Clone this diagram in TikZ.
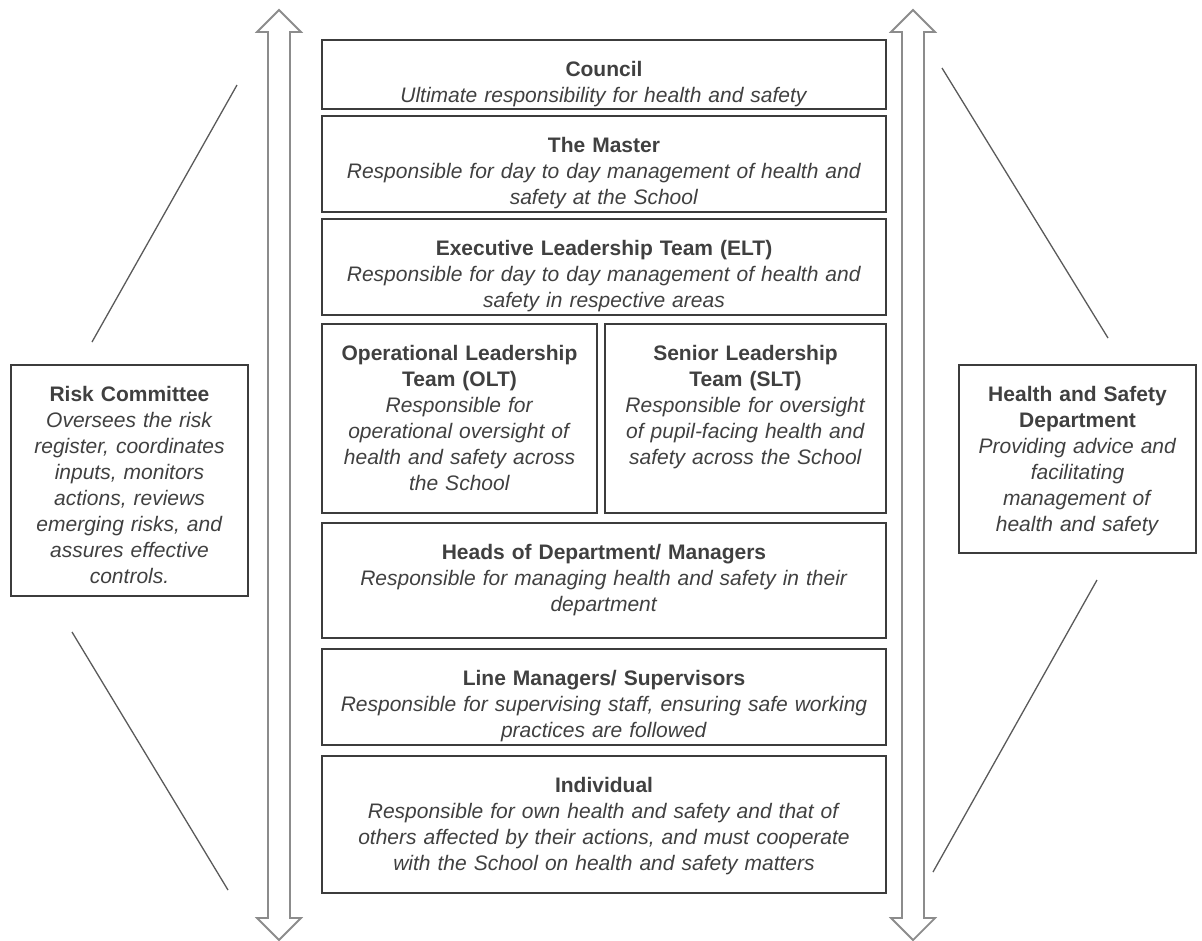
\documentclass[tikz,border=0pt]{standalone}
\usepackage{fontspec}
\setmainfont{Liberation Sans}
\usepackage{tikz}
\definecolor{ink}{HTML}{404040}
\definecolor{frame}{HTML}{3C3C3C}
\definecolor{shaft}{HTML}{8C8C8C}
\definecolor{slant}{HTML}{5A5A5A}

\begin{document}
\begin{tikzpicture}[x=1pt,y=-1pt]
\tikzstyle{unit}=[rectangle,draw=frame,line width=1.6pt,text=ink,align=center,inner sep=0pt,anchor=north,text height=37pt,font=\fontsize{21}{26}\selectfont]
\tikzstyle{wide}=[unit,text width=564pt]
\tikzstyle{every node}=[unit]
\tikzstyle{slant}=[draw=slant,line width=1.3pt]
\useasboundingbox (0,0) rectangle (1202,940);

% the two way block arrows
\foreach \c in {279,913}
  \draw[draw=shaft,line width=1.8pt,fill=white] (\c,10) -- (\c+22,32) -- (\c+11,32) -- (\c+11,918) -- (\c+22,918) -- (\c,940)
    -- (\c-22,918) -- (\c-11,918) -- (\c-11,32) -- (\c-22,32) -- cycle;

\node[wide,text depth=32pt](C) at (604,39) {\textbf{Council}\\ \textit{Ultimate responsibility for health and safety}};
\node[wide,text depth=59pt](M) at (604,115) {\textbf{The Master}\\ \textit{Responsible for day to day management of health and}\\ \textit{safety at the School}};
\node[wide,text depth=59pt](E) at (604,218) {\textbf{Executive Leadership Team (ELT)}\\ \textit{Responsible for day to day management of health and}\\ \textit{safety in respective areas}};
\node[text width=275pt,text depth=152pt](O) at (459.5,323) {\textbf{Operational Leadership}\\ \textbf{Team (OLT)}\\ \textit{Responsible for}\\ \textit{operational oversight of}\\ \textit{health and safety across}\\ \textit{the School}};
\node[text width=281pt,text depth=152pt](S) at (745.5,323) {\textbf{Senior Leadership}\\ \textbf{Team (SLT)}\\ \textit{Responsible for oversight}\\ \textit{of pupil-facing health and}\\ \textit{safety across the School}};
\node[wide,text depth=78pt](H) at (604,522) {\textbf{Heads of Department/ Managers}\\ \textit{Responsible for managing health and safety in their}\\ \textit{department}};
\node[wide,text depth=59pt](L) at (604,648) {\textbf{Line Managers/ Supervisors}\\ \textit{Responsible for supervising staff, ensuring safe working}\\ \textit{practices are followed}};
\node[wide,text depth=100pt](I) at (604,755) {\textbf{Individual}\\ \textit{Responsible for own health and safety and that of}\\ \textit{others affected by their actions, and must cooperate}\\ \textit{with the School on health and safety matters}};

\node[text width=237pt,text depth=194pt](R) at (129.5,364) {\textbf{Risk Committee}\\ \textit{Oversees the risk}\\ \textit{register, coordinates}\\ \textit{inputs, monitors}\\ \textit{actions, reviews}\\ \textit{emerging risks, and}\\ \textit{assures effective}\\ \textit{controls.}};
\node[text width=237pt,text depth=151pt](D) at (1077.5,364) {\textbf{Health and Safety}\\ \textbf{Department}\\ \textit{Providing advice and}\\ \textit{facilitating}\\ \textit{management of}\\ \textit{health and safety}};

\coordinate (r1) at (237,85);
\coordinate (r2) at (92,342);
\coordinate (r3) at (72,632);
\coordinate (r4) at (228,890);
\coordinate (d1) at (942,68);
\coordinate (d2) at (1108,338);
\coordinate (d3) at (1097,580);
\coordinate (d4) at (933,872);

\draw[slant] (r1) -- (r2);
\draw[slant] (r3) -- (r4);
\draw[slant] (d1) -- (d2);
\draw[slant] (d3) -- (d4);
\end{tikzpicture}
\end{document}
